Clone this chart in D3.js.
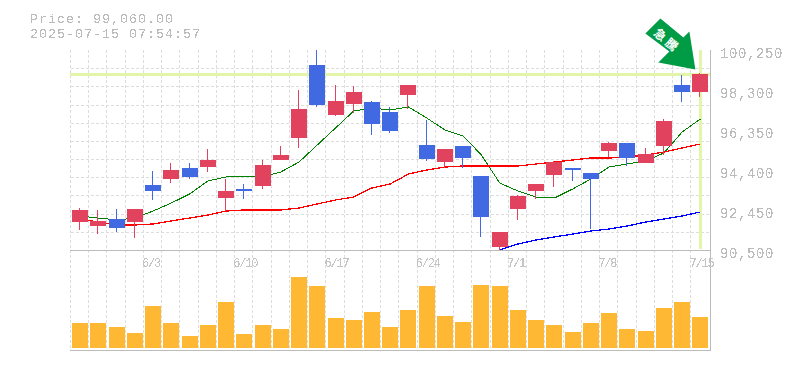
<!DOCTYPE html>
<html>
<head>
<meta charset="utf-8">
<script src="https://cdn.jsdelivr.net/npm/d3@7"></script>
<style>
  html, body { margin: 0; padding: 0; background: #fff; overflow: hidden; }
  text { font-family: "Liberation Mono", monospace; fill: #bbbbbb; }
</style>
</head>
<body>
<svg id="chart" width="785" height="370"></svg>
<script>
const dates = ['5/28','5/29','5/30','6/2','6/3','6/4','6/5','6/6','6/9','6/10','6/11','6/12','6/13','6/16','6/17','6/18','6/19','6/20','6/23','6/24','6/25','6/26','6/27','6/30','7/1','7/2','7/3','7/4','7/7','7/8','7/9','7/10','7/11','7/14','7/15']
const dateTicks = ['6/3','6/10','6/17','6/24','7/1','7/8','7/15']
const priceTicks = [100250, 98300, 96350, 94400, 92450, 90500]

const opens  = [91865,91670,92011,91865,93669,93961,94498,94546,93035,93474,93620,94888,95960,99519,97081,97618,97715,97228,98056,95619,94790,95570,94108,90646,92499,93376,94156,94498,94254,95326,95716,94741,95570,98544,98203]
const highs  = [92548,92450,92499,92499,94351,94741,94741,95424,93961,93718,94888,95570,98300,100250,98544,98495,97764,97471,98544,96838,95424,95570,94108,91378,93181,93718,94839,94498,94254,95765,95716,95473,96886,99031,99129]
const lows   = [91475,91280,91378,91085,92938,93766,93961,94303,92401,92986,93474,94888,95473,97471,97033,97179,96106,96204,97374,94839,94498,94498,91134,90500,91963,92986,93571,93864,91524,95034,94595,94741,95131,97715,97959]
const closes = [92450,91914,91573,92499,93376,94400,94059,94888,93376,93376,94644,95131,97374,97569,97764,98203,96643,96301,98544,94936,95424,94985,92109,91378,93133,93718,94790,94400,93961,95716,94985,95180,96789,98203,99080]
const volumes = [25,25,21,15,42,25,12,23,46,14,23,19,71,62,30,28,36,21,38,62,32,26,63,62,38,28,23,16,25,35,19,17,40,46,31]

const maShort = [92158,92060,91963,92060,92401,92791,93230,93864,94059,94059,94059,94303,94790,95619,96448,97276,97423,97325,97471,96935,96350,96058,95131,93766,93376,93084,93035,93474,93961,94546,94693,94839,95229,96253,96886]
const maMid   = [92011,91865,91719,91719,91768,91914,92060,92206,92401,92450,92450,92450,92548,92743,92938,93084,93523,93718,94205,94400,94546,94595,94595,94595,94595,94693,94790,94888,94985,94985,95034,95131,95278,95473,95668]
const maLong  = [null,null,null,null,null,null,null,null,null,null,null,null,null,null,null,null,null,null,null,null,null,null,null,90500,90793,90988,91134,91280,91426,91524,91670,91865,92011,92158,92353]

const lastPrice = 99060
const title1 = 'Price: 99,060.00'
const title2 = '2025-07-15 07:54:57'

const svg = d3.select('#chart')
const plotLeft = 71, plotRight = 709.5, plotTop = 50, plotBottom = 250, volBottom = 350

const xScale = d3.scaleBand().domain(dates).range([plotLeft, plotRight])
const yScale = d3.scaleLinear().domain([90500, 100250]).range([plotBottom, plotTop])
const volScale = d3.scaleLinear().domain([0, 100]).range([348, 248])
const center = d => xScale(d) + xScale.bandwidth() / 2

// threshold the glyph alpha so text comes out hard edged like the original
const filter = svg.append('defs').append('filter').attr('id', 'hard')
  .attr('x', '-5%').attr('y', '-20%').attr('width', '110%').attr('height', '140%')
filter.append('feComponentTransfer').append('feFuncA')
  .attr('type', 'discrete').attr('tableValues', '0 0 1 1')

// grid
const grid = svg.append('g').attr('stroke', '#dddddd').attr('stroke-dasharray', '3,2').attr('shape-rendering', 'crispEdges')
d3.range(0, 11).forEach(i => {
  const yy = Math.round(yScale(90500 + i * 9750 / 11)) + 0.5
  grid.append('line').attr('x1', plotLeft).attr('x2', 710).attr('y1', yy).attr('y2', yy)
})
dates.forEach(d => {
  const xx = Math.round(xScale(d)) - 0.5
  grid.append('line').attr('x1', xx).attr('x2', xx).attr('y1', plotTop).attr('y2', volBottom)
})

// current price / current date highlight
const hl = svg.append('g').attr('fill', '#e3f5a8').attr('shape-rendering', 'crispEdges')
hl.append('rect').attr('x', plotLeft - 1).attr('width', 710 - plotLeft + 1)
  .attr('y', Math.round(yScale(lastPrice)) - 1).attr('height', 3)
hl.append('rect').attr('x', Math.round(center('7/15')) - 1).attr('width', 3)
  .attr('y', plotTop).attr('height', plotBottom - plotTop - 1)

// frame
const frame = svg.append('g').attr('stroke', '#bbbbbb').attr('shape-rendering', 'crispEdges')
frame.append('line').attr('x1', plotLeft - 1).attr('x2', 711).attr('y1', 250.5).attr('y2', 250.5)
frame.append('line').attr('x1', plotLeft - 1).attr('x2', 711).attr('y1', 350.5).attr('y2', 350.5)
frame.append('line').attr('x1', 710.5).attr('x2', 710.5).attr('y1', plotTop).attr('y2', 351)

// moving averages
const line = d3.line()
  .defined(d => d.v !== null)
  .x(d => center(d.d))
  .y(d => yScale(d.v))
const series = [[maShort, '#008000', 1], [maMid, '#ff0000', 1.3], [maLong, '#0000ff', 1.3]]
series.forEach(s => {
  svg.append('path')
    .datum(dates.map((d, i) => ({ d: d, v: s[0][i] })))
    .attr('fill', 'none')
    .attr('stroke', s[1])
    .attr('stroke-width', s[2])
    .attr('shape-rendering', 'crispEdges')
    .attr('d', line)
})

// candles
const up = '#e1435f', down = '#4169e1'
const candles = svg.append('g').attr('shape-rendering', 'crispEdges')
dates.forEach((d, i) => {
  const col = closes[i] >= opens[i] ? up : down
  const bx = Math.round(center(d) - 8)
  const bt = Math.round(yScale(Math.max(opens[i], closes[i])))
  const bb = Math.round(yScale(Math.min(opens[i], closes[i])))
  const wt = Math.round(yScale(highs[i]))
  const wb = Math.round(yScale(lows[i]))
  candles.append('rect').attr('x', bx + 7).attr('width', 1).attr('y', wt).attr('height', wb - wt).attr('fill', col)
  candles.append('rect').attr('x', bx).attr('width', 16).attr('y', bt).attr('height', bb - bt).attr('fill', col)
})

// volume
svg.append('g').selectAll('rect')
  .data(dates)
  .join('rect')
  .attr('x', d => Math.round(center(d) - 8))
  .attr('width', 16)
  .attr('y', (d, i) => Math.round(volScale(volumes[i])))
  .attr('height', (d, i) => 348 - Math.round(volScale(volumes[i])))
  .attr('fill', '#ffb833')
  .attr('shape-rendering', 'crispEdges')

// axes
const yAxis = d3.axisRight(yScale).tickValues(priceTicks).tickSize(0).tickPadding(0).tickFormat(d3.format(','))
const yg = svg.append('g').attr('transform', 'translate(720,0)').call(yAxis)
yg.select('.domain').remove()
yg.selectAll('text').attr('font-size', 14).attr('letter-spacing', 0.6).attr('font-family', '"Liberation Mono", monospace').attr('filter', 'url(#hard)').attr('x', 0).attr('y', 3)

const xAxis = d3.axisBottom(xScale).tickValues(dateTicks).tickSize(0).tickPadding(0)
const xg = svg.append('g').attr('transform', 'translate(0,' + plotBottom + ')').call(xAxis)
xg.select('.domain').remove()
xg.selectAll('text').attr('font-size', 12).attr('letter-spacing', -1.2).attr('font-family', '"Liberation Mono", monospace')
  .attr('text-anchor', 'start').attr('x', -11).attr('y', 8).style('fill', '#c4c4c4').attr('filter', 'url(#hard)')

// header
svg.append('text').attr('x', 30).attr('y', 22.5).attr('font-size', 13.5).attr('letter-spacing', 0.9).attr('filter', 'url(#hard)').text(title1)
svg.append('text').attr('x', 30).attr('y', 38).attr('font-size', 13.5).attr('letter-spacing', 0.9).attr('filter', 'url(#hard)').text(title2)

// arrow badge, tip just left of the last candle
const tipX = center('7/15') - 5, tipY = yScale(lastPrice) - 5
const arrowShape = [[-50, -36], [-35, -51], [-12, -32], [-6, -38], [0, 0], [-37, -7], [-26, -18]]
const badge = svg.append('g').attr('transform', 'translate(' + tipX + ',' + tipY + ')')
badge.append('polygon').attr('points', arrowShape.join(' ')).attr('fill', '#009b45')
badge.append('text').attr('transform', 'translate(-29,-28) rotate(40)')
  .attr('text-anchor', 'middle').attr('dominant-baseline', 'middle')
  .style('font-family', '"Noto Sans CJK JP"').style('font-weight', 700).style('font-size', '12px').style('fill', '#fff')
  .attr('letter-spacing', 3)
  .text('急騰')
</script>
</body>
</html>
